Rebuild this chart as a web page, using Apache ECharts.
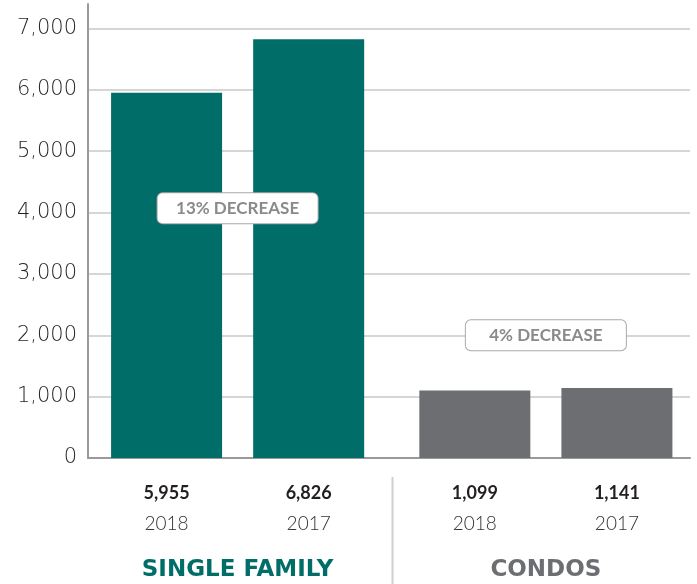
<!DOCTYPE html>
<html>
<head>
<meta charset="utf-8">
<script src="https://cdn.jsdelivr.net/npm/echarts@6/dist/echarts.min.js"></script>
<style>
  html, body { margin: 0; padding: 0; background: #fff; overflow: hidden; }
  #chart { width: 700px; height: 584px; }
</style>
</head>
<body>
<div id="chart"></div>
<script>
// data
const groups = ['SINGLE FAMILY', 'CONDOS']
const years = ['2018', '2017']
const sales2018 = [5955, 1099]
const sales2017 = [6826, 1141]
const groupColors = ['#006d69', '#6d6e71']
const yTicks = [0, 1000, 2000, 3000, 4000, 5000, 6000, 7000]
const notePos = [4070, 2000]

const fmt = v => v.toLocaleString('en-US')
const FONT = 'Lato'

const notes = groups.map((g, i) => {
  const pct = Math.round((sales2017[i] - sales2018[i]) / sales2017[i] * 100)
  return {
    coord: [g, notePos[i]],
    value: pct + '% DECREASE'
  }
})

const barLabel = {
  show: true,
  position: 'bottom',
  distance: 20,
  formatter: p => `{v|${fmt(p.value)}}\n{y|${p.seriesName}}`,
  rich: {
    v: { fontFamily: FONT, fontSize: 18, fontWeight: 'bold', color: '#231f20', lineHeight: 30, align: 'center' },
    y: { fontFamily: FONT, fontSize: 19, fontWeight: 300, color: '#333', lineHeight: 32, align: 'center' }
  }
}

const chart = echarts.init(document.getElementById('chart'))

const option = {
  animation: false,
  grid: [
    { left: 88, right: 10, top: 4, bottom: 126 },
    { left: 83.5, right: 0, top: 4, bottom: 126 }
  ],
  xAxis: [
    {
      gridIndex: 0,
      type: 'category',
      data: groups,
      axisLine: { lineStyle: { color: '#9a9a9a', width: 2 } },
      axisTick: { show: false },
      axisLabel: { show: false }
    },
    {
      gridIndex: 1,
      type: 'category',
      data: groups,
      axisLine: { show: false },
      axisTick: { show: false },
      axisLabel: {
        margin: 101,
        fontFamily: 'DejaVu Sans',
        fontSize: 23,
        fontWeight: 'bold',
        color: (v, i) => groupColors[i]
      }
    }
  ],
  yAxis: [
    {
      gridIndex: 0,
      type: 'value',
      min: 0,
      max: 7400,
      interval: 1000,
      axisLine: { show: true, lineStyle: { color: '#9a9a9a', width: 2 } },
      axisTick: { show: false },
      axisLabel: {
        margin: 11,
        fontFamily: 'DejaVu Sans',
        fontSize: 21,
        fontWeight: 200,
        color: '#231f20',
        formatter: v => (yTicks.includes(v) ? fmt(v) : '')
      },
      splitLine: {
        lineStyle: {
          color: yTicks.map(() => '#c8c8c8').concat(['rgba(0,0,0,0)']),
          width: 1.5
        }
      }
    },
    {
      gridIndex: 1,
      type: 'value',
      min: 0,
      max: 7400,
      show: false,
      splitLine: { show: false }
    }
  ],
  series: [
    {
      name: years[0],
      type: 'bar',
      xAxisIndex: 1,
      yAxisIndex: 1,
      barWidth: 111,
      barGap: '28%',
      data: sales2018,
      itemStyle: { color: p => groupColors[p.dataIndex] },
      label: barLabel
    },
    {
      name: years[1],
      type: 'bar',
      xAxisIndex: 1,
      yAxisIndex: 1,
      barWidth: 111,
      data: sales2017,
      itemStyle: { color: p => groupColors[p.dataIndex] },
      label: barLabel
    },
    {
      name: 'notes',
      type: 'scatter',
      xAxisIndex: 1,
      yAxisIndex: 1,
      data: [],
      markPoint: {
        symbol: 'rect',
        symbolSize: 0,
        z: 10,
        data: notes,
        label: {
          show: true,
          position: 'inside',
          formatter: p => p.value,
          fontFamily: FONT,
          fontSize: 17,
          fontWeight: 'bold',
          color: '#8a8a8a',
          backgroundColor: '#fff',
          borderColor: '#a8a8a8',
          borderWidth: 1,
          borderRadius: 5,
          width: 128,
          align: 'center',
          verticalAlign: 'middle',
          lineHeight: 18,
          padding: [6, 16]
        }
      }
    }
  ],
  graphic: [
    {
      type: 'line',
      shape: { x1: 392.5, y1: 477, x2: 392.5, y2: 584 },
      style: { stroke: '#cfcfcf', lineWidth: 2 }
    }
  ]
}

chart.setOption(option)
</script>
</body>
</html>
